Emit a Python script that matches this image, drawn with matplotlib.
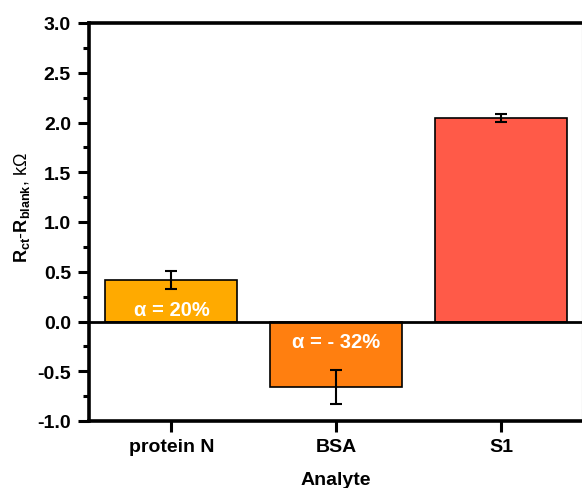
import numpy as np
import matplotlib.pyplot as plt
from matplotlib.ticker import MultipleLocator

plt.rcParams["font.family"] = ["Liberation Sans", "DejaVu Sans"]
plt.rcParams["mathtext.fontset"] = "custom"
plt.rcParams["mathtext.rm"] = "Liberation Sans"
plt.rcParams["mathtext.bf"] = "Liberation Sans:bold"

analytes = ["protein N", "BSA", "S1"]
delta_r = [0.42, -0.66, 2.05]
errors = [0.09, 0.17, 0.04]
colors = ["#FFAA00", "#FF7F10", "#FF5A48"]
alpha_labels = ["α = 20%", "α = - 32%", None]
label_y = [0.12, -0.20, None]

fig = plt.figure(figsize=(5.82, 4.89), dpi=100)
ax = fig.add_axes([89 / 582, 1 - 422 / 489, 1 - 89 / 582, 398 / 489])

x = np.arange(len(analytes))
ax.bar(x, delta_r, width=0.8, color=colors, edgecolor="black", linewidth=1.2,
       yerr=errors, capsize=4, error_kw=dict(elinewidth=1.5, capthick=1.5, ecolor="black"),
       zorder=2)
ax.axhline(0, color="black", linewidth=2, zorder=3)

for xi, lab, ly in zip(x, alpha_labels, label_y):
    if lab:
        ax.text(xi, ly, lab, color="white", fontsize=14.5, fontweight="bold",
                ha="center", va="center", zorder=4)

ax.set_xlim(-0.5, 2.49)
ax.set_ylim(-1.0, 3.0)
ax.set_xticks(x)
ax.set_xticklabels(analytes, fontsize=14, fontweight="bold")
ax.yaxis.set_major_locator(MultipleLocator(0.5))
ax.yaxis.set_minor_locator(MultipleLocator(0.25))
ax.yaxis.set_major_formatter(plt.FormatStrFormatter("%.1f"))
for lab in ax.get_yticklabels():
    lab.set_fontweight("bold")
    lab.set_fontsize(14)

ax.tick_params(axis="both", which="major", direction="out", length=8, width=2.2, pad=5)
ax.tick_params(axis="x", which="major", pad=4)
ax.tick_params(axis="y", which="minor", direction="out", length=4, width=2.2)
ax.tick_params(axis="x", which="minor", bottom=False)

for side in ["left", "bottom", "top"]:
    ax.spines[side].set_linewidth(2.6)
ax.spines["right"].set_linewidth(0.8)
ax.spines["right"].set_color("#999999")

ax.set_xlabel("Analyte", fontsize=14, fontweight="bold", labelpad=12)
ax.set_ylabel(r"$\mathbf{R_{ct}}$-$\mathbf{R_{blank}}$, kΩ", fontsize=13)
ax.yaxis.set_label_coords(-0.115, 0.54)

fig.savefig("out.png", dpi=100)
